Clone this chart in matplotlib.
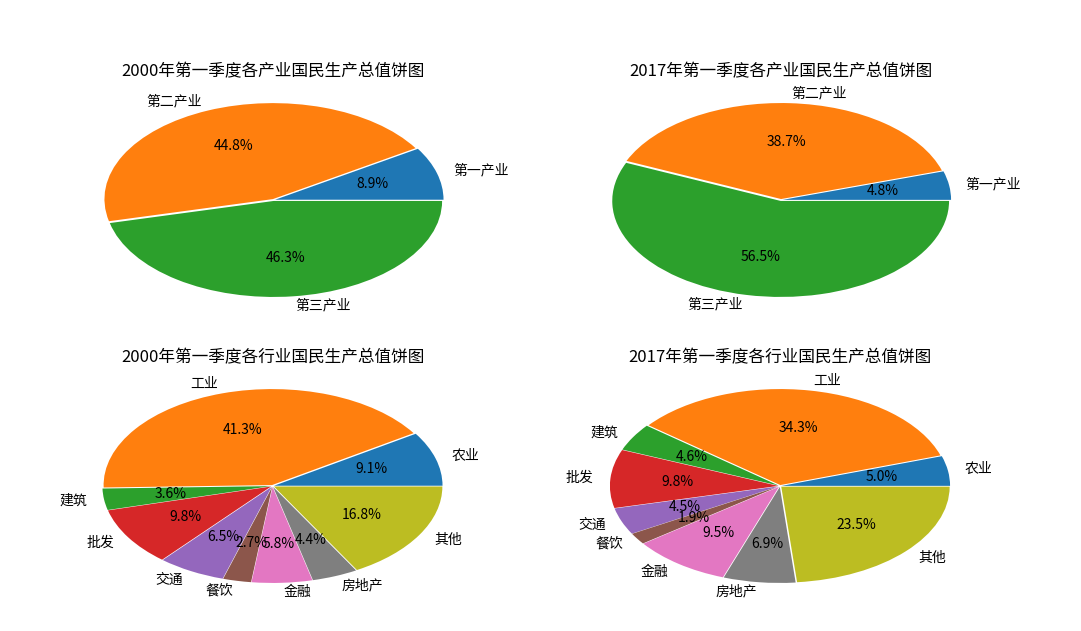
import matplotlib
matplotlib.use("Agg")
import matplotlib.pyplot as plt

plt.rcParams['font.family'] = ['Noto Sans CJK SC', 'DejaVu Sans']
plt.rcParams['axes.unicode_minus'] = False

sector_labels = ['第一产业', '第二产业', '第三产业']
sector_2000 = [8.9, 44.8, 46.3]
sector_2017 = [4.8, 38.7, 56.5]

industry_labels = ['农业', '工业', '建筑', '批发', '交通', '餐饮', '金融', '房地产', '其他']
industry_2000 = [9.1, 41.3, 3.6, 9.8, 6.5, 2.7, 5.8, 4.4, 16.8]
industry_2017 = [5.0, 34.3, 4.6, 9.8, 4.5, 1.9, 9.5, 6.9, 23.5]

titles = ['2000年第一季度各产业国民生产总值饼图', '2017年第一季度各产业国民生产总值饼图',
          '2000年第一季度各行业国民生产总值饼图', '2017年第一季度各行业国民生产总值饼图']

W, H = 1081, 631
fig = plt.figure(figsize=(W / 100, H / 100), dpi=100)

def ax_at(cx, cy, w=421, h=240):
    return fig.add_axes([(cx - w / 2) / W, 1 - (cy + h / 2) / H, w / W, h / H])

axes = [ax_at(273.5, 200), ax_at(781, 200), ax_at(272.5, 486), ax_at(780, 486)]
data = [(sector_2000, sector_labels), (sector_2017, sector_labels),
        (industry_2000, industry_labels), (industry_2017, industry_labels)]

for ax, (vals, labs), t in zip(axes, data, titles):
    ax.pie(vals, labels=labs, autopct='%1.1f%%', explode=[0.01] * len(vals),
           textprops={'fontsize': 10})
    ax.set_aspect('auto')
    ax.set_xlim(-1.25, 1.25)
    ax.set_ylim(-1.25, 1.25)
    ax.set_title(t, fontsize=12, pad=3)

fig.savefig('out.png', dpi=100)
